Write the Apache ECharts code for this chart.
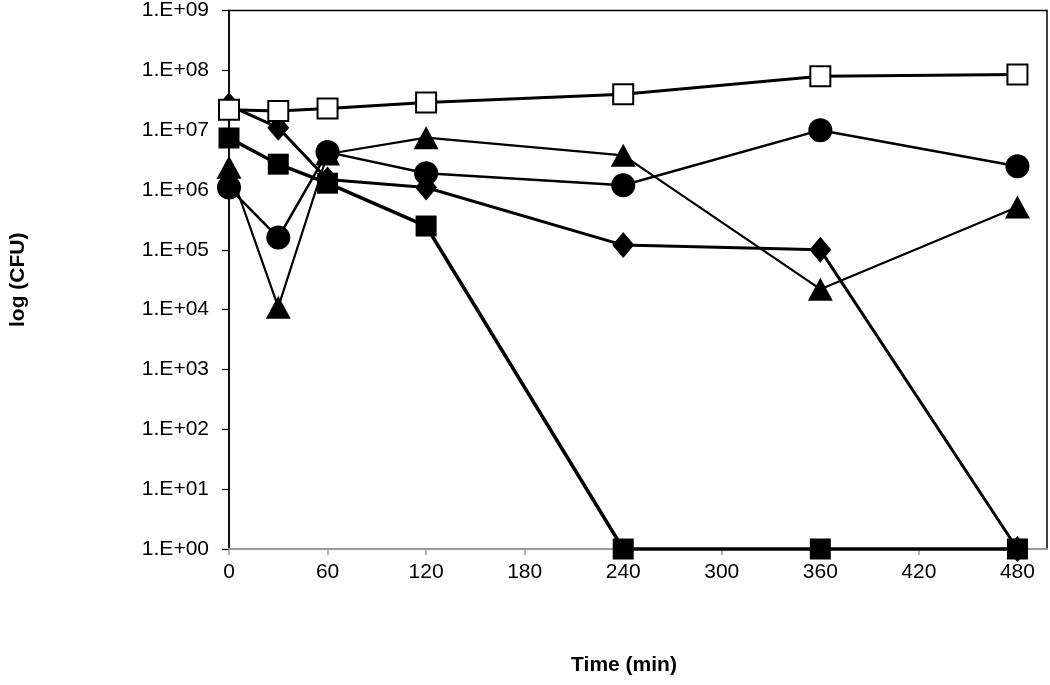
<!DOCTYPE html>
<html>
<head>
<meta charset="utf-8">
<script src="https://cdn.jsdelivr.net/npm/echarts@6/dist/echarts.min.js"></script>
<style>
  html, body { margin: 0; padding: 0; background: #fff; }
  #chart { width: 1050px; height: 685px; }
</style>
</head>
<body>
<div id="chart"></div>
<script>
// sampling times (min)
const times = [0, 30, 60, 120, 240, 360, 480]
// CFU per series
const openSquare = [2.2e7, 2.1e7, 2.3e7, 2.9e7, 4.0e7, 8.0e7, 8.5e7]
const circles = [1.1e6, 1.6e5, 4.3e6, 1.9e6, 1.2e6, 1.0e7, 2.5e6]
const triangles = [2.4e6, 1.1e4, 4.0e6, 7.5e6, 3.8e6, 2.2e4, 5.2e5]
const diamonds = [2.6e7, 1.1e7, 1.5e6, 1.1e6, 1.2e5, 1.0e5, 1]
const filledSquare = [7.4e6, 2.7e6, 1.3e6, 2.5e5, 1, 1, 1]
// axis ticks
const xTicks = [0, 60, 120, 180, 240, 300, 360, 420, 480]
const yTicks = [1, 1e1, 1e2, 1e3, 1e4, 1e5, 1e6, 1e7, 1e8, 1e9]

const font = '"Liberation Sans", Arial, sans-serif'

const pairs = (vals) => times.map((t, i) => [t, vals[i]])

const chart = echarts.init(document.getElementById('chart'))

// 画线的公共配置
function makeSeries (vals, symbol, size, lineWidth, fill) {
  return {
    type: 'line',
    data: pairs(vals),
    symbol: symbol,
    symbolSize: size,
    showSymbol: true,
    clip: false,
    lineStyle: { color: '#000', width: lineWidth },
    itemStyle: {
      color: fill || '#000',
      borderColor: '#000',
      borderWidth: fill ? 2 : 0,
      opacity: 1
    },
    emphasis: { disabled: true }
  }
}

const option = {
  animation: false,
  backgroundColor: '#fff',
  grid: {
    left: 226,
    top: 9,
    right: 3,
    bottom: 136,
    show: true,
    borderColor: '#000',
    borderWidth: 1.5,
    backgroundColor: 'transparent'
  },
  xAxis: {
    type: 'value',
    min: 0,
    max: 498,
    name: 'Time (min)',
    nameLocation: 'middle',
    nameGap: 106,
    nameTextStyle: { fontFamily: font, fontSize: 21, fontWeight: 'bold', color: '#000', padding: [0, 28, 0, 0] },
    axisLine: { show: true, lineStyle: { color: '#999', width: 2 } },
    axisTick: { show: true, length: 6, inside: false, customValues: xTicks, lineStyle: { color: '#999', width: 1.5 } },
    axisLabel: { customValues: xTicks, margin: 13, fontFamily: font, fontSize: 21, color: '#000' },
    splitLine: { show: false }
  },
  yAxis: {
    type: 'log',
    logBase: 10,
    min: 1,
    max: 1e9,
    name: 'log (CFU)',
    nameLocation: 'middle',
    nameGap: 200,
    nameRotate: 90,
    nameTextStyle: { fontFamily: font, fontSize: 21, fontWeight: 'bold', color: '#000' },
    axisLine: { show: true, lineStyle: { color: '#000', width: 1.5 } },
    axisTick: { show: true, length: 7, customValues: yTicks, lineStyle: { color: '#000', width: 1.2 } },
    axisLabel: {
      customValues: yTicks,
      margin: 20,
      fontFamily: font,
      fontSize: 21,
      color: '#000',
      formatter: (v) => {
        const e = Math.round(Math.log10(v))
        return '1.E+' + (e < 10 ? '0' + e : e)
      }
    },
    splitLine: { show: false }
  },
  series: [
    makeSeries(diamonds, 'diamond', [22, 26], 3),
    makeSeries(filledSquare, 'rect', 21, 3.5),
    makeSeries(triangles, 'triangle', [25, 23], 2.2),
    makeSeries(circles, 'circle', 24, 2.5),
    makeSeries(openSquare, 'rect', 20, 3, '#fff')
  ]
}

chart.setOption(option)
</script>
</body>
</html>
